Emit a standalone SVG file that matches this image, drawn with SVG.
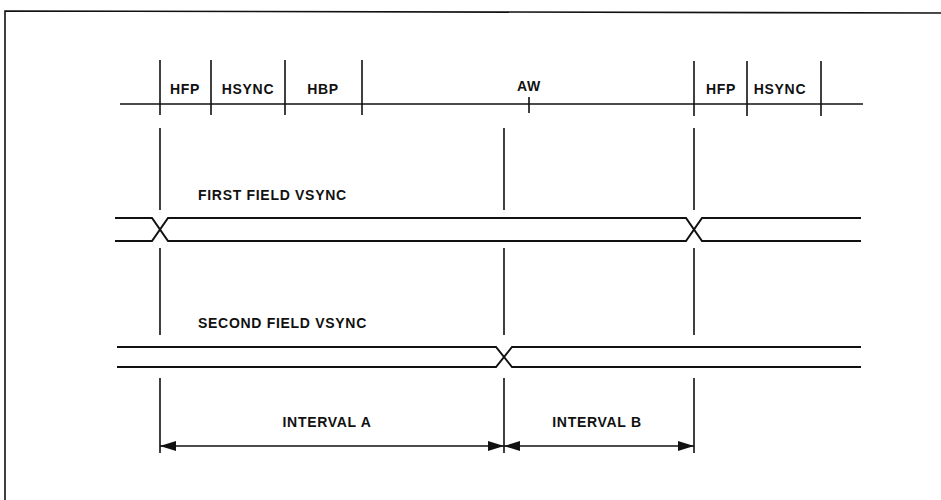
<svg xmlns="http://www.w3.org/2000/svg" width="941" height="500" viewBox="0 0 941 500">
<style>
.ln{stroke:#111;stroke-width:1.6;fill:none;stroke-linecap:butt}
.sig{stroke:#111;stroke-width:2;fill:none;stroke-linejoin:miter}
.lbl{font-family:"Liberation Sans",Arial,sans-serif;font-weight:bold;font-size:14px;letter-spacing:0.7px;fill:#111}
</style>
<defs>
<marker id="ah" viewBox="0 0 16 10" refX="16" refY="5" markerWidth="16" markerHeight="10" markerUnits="userSpaceOnUse" orient="auto-start-reverse">
<path d="M0,0 L16,5 L0,10 Z" fill="#111"/>
</marker>
</defs>
<rect width="941" height="500" fill="#fff"/>
<path class="ln" d="M5,500 L5,11 L941,13" stroke-width="2"/>
<g id="timeline">
<line class="ln" x1="120" y1="104" x2="863" y2="104" stroke-width="2"/>
<line class="ln" x1="160" y1="60" x2="160" y2="115"/>
<line class="ln" x1="211" y1="60" x2="211" y2="115"/>
<line class="ln" x1="285" y1="60" x2="285" y2="115"/>
<line class="ln" x1="362" y1="60" x2="362" y2="115"/>
<line class="ln" x1="529" y1="97" x2="529" y2="113"/>
<line class="ln" x1="694" y1="61" x2="694" y2="116"/>
<line class="ln" x1="747" y1="61" x2="747" y2="116"/>
<line class="ln" x1="821" y1="61" x2="821" y2="116"/>
<text class="lbl" x="185" y="94" text-anchor="middle">HFP</text>
<text class="lbl" x="248" y="94" text-anchor="middle">HSYNC</text>
<text class="lbl" x="323" y="94" text-anchor="middle">HBP</text>
<text class="lbl" x="529" y="91" text-anchor="middle">AW</text>
<text class="lbl" x="721" y="94" text-anchor="middle">HFP</text>
<text class="lbl" x="780" y="94" text-anchor="middle">HSYNC</text>
</g>
<g id="guides">
<path class="ln" d="M160,128 V210 M160,248 V335 M160,378 V453"/>
<path class="ln" d="M504,128 V210 M504,248 V335 M504,378 V453"/>
<path class="ln" d="M694,128 V210 M694,248 V335 M694,378 V453"/>
</g>
<g id="first-field">
<text class="lbl" x="198" y="200">FIRST FIELD VSYNC</text>
<path class="sig" d="M115,218 H152 L168,241 H686 L702,218 H861"/>
<path class="sig" d="M115,241 H152 L168,218 H686 L702,241 H861"/>
</g>
<g id="second-field">
<text class="lbl" x="198" y="328">SECOND FIELD VSYNC</text>
<path class="sig" d="M117,347 H496 L512,367 H861"/>
<path class="sig" d="M117,367 H496 L512,347 H861"/>
</g>
<g id="intervals">
<line class="ln" x1="160" y1="446" x2="504" y2="446" marker-start="url(#ah)" marker-end="url(#ah)"/>
<line class="ln" x1="504" y1="446" x2="694" y2="446" marker-start="url(#ah)" marker-end="url(#ah)"/>
<text class="lbl" x="327" y="427" text-anchor="middle">INTERVAL A</text>
<text class="lbl" x="597" y="427" text-anchor="middle">INTERVAL B</text>
</g>
</svg>
